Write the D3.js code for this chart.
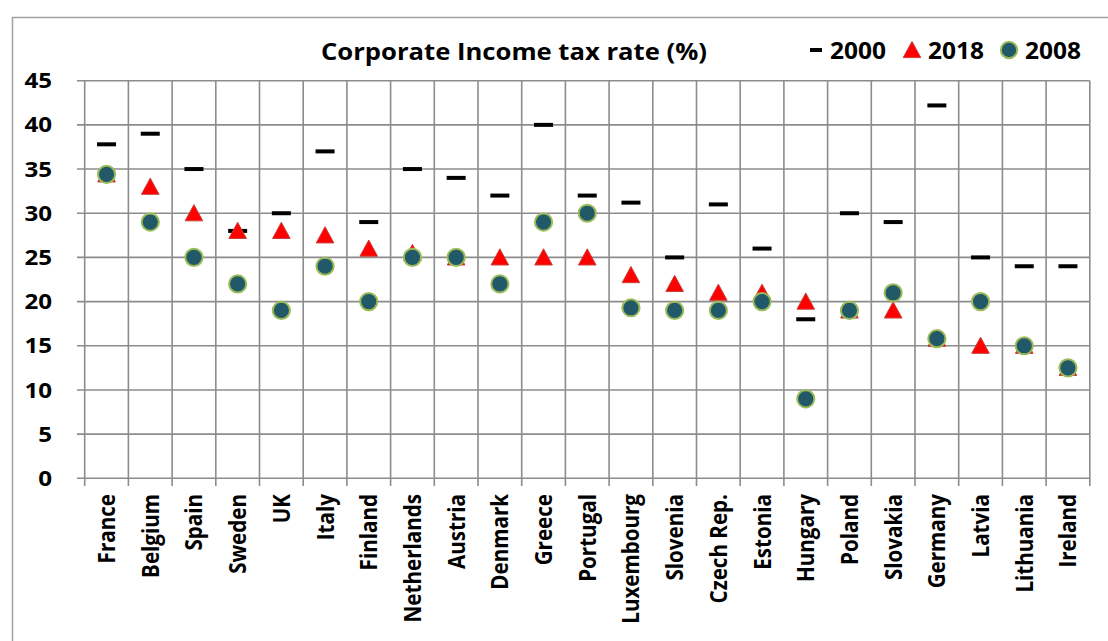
<!DOCTYPE html>
<html><head><meta charset="utf-8">
<script src="https://cdn.jsdelivr.net/npm/d3@7/dist/d3.min.js"></script>
<style>html,body{margin:0;padding:0;background:#fff;}svg{display:block;}</style>
</head><body>
<svg id="chart" width="1108" height="641"></svg>
<script>
const categories = ["France","Belgium","Spain","Sweden","UK","Italy","Finland","Netherlands","Austria","Denmark","Greece","Portugal","Luxembourg","Slovenia","Czech Rep.","Estonia","Hungary","Poland","Slovakia","Germany","Latvia","Lithuania","Ireland"];
const values2000 = [37.8,39,35,28,30,37,29,35,34,32,40,32,31.2,25,31,26,18,30,29,42.2,25,24,24];
const values2018 = [34.4,33,30,28,28,27.5,26,25.5,25,25,25,25,23,22,21,21,20,19,19,15.8,15,15,12.5];
const values2008 = [34.4,29,25,22,19,24,20,25,25,22,29,30,19.3,19,19,20,9,19,21,15.8,20,15,12.5];
const yTicks = [0,5,10,15,20,25,30,35,40,45];
const titleText = "Corporate Income tax rate (%)";
const legendItems = [{label:"2000",kind:"dash"},{label:"2018",kind:"tri"},{label:"2008",kind:"circ"}];

const svg = d3.select("#chart");
const FONT = "'Open Sans', 'Liberation Sans', sans-serif";
const SX = 1.15;
const gridColor = "#8c8c8c";

// frame
svg.append("path").attr("d","M12.5,641 L12.5,17.5 L1108,17.5").attr("fill","none").attr("stroke","#a0a0a0").attr("stroke-width",1.5);

const x = d3.scaleBand().domain(categories).range([84.7,1089.8]).paddingInner(0).paddingOuter(0);
const y = d3.scaleLinear().domain([0,45]).range([478.3,80.7]);
const cx = d => x(d) + x.bandwidth()/2;

// horizontal gridlines
svg.append("g").selectAll("line").data(yTicks).join("line")
  .attr("x1",77).attr("x2",x.range()[1]).attr("y1",d=>y(d)).attr("y2",d=>y(d))
  .attr("stroke",gridColor).attr("stroke-width",1.6);
// vertical gridlines (band boundaries)
const bounds = categories.map(c=>x(c)).concat([x.range()[1]]);
svg.append("g").selectAll("line").data(bounds).join("line")
  .attr("x1",d=>d).attr("x2",d=>d).attr("y1",y(45)).attr("y2",486)
  .attr("stroke",gridColor).attr("stroke-width",1.6);

// y tick labels
svg.append("g").selectAll("text").data(yTicks).join("text")
  .attr("transform",d=>`translate(52,${y(d)}) scale(${SX},1)`)
  .attr("dy","0.36em").attr("text-anchor","end")
  .attr("font-family",FONT).attr("font-weight","bold").attr("font-size",21).attr("fill","#000")
  .text(d=>d);

// x labels
svg.append("g").selectAll("text").data(categories).join("text")
  .attr("transform",d=>`translate(${cx(d)},494) scale(${SX},1) rotate(-90)`)
  .attr("dy","0.36em").attr("text-anchor","end")
  .attr("font-family",FONT).attr("font-weight","bold").attr("font-size",20.6).attr("fill","#000")
  .text(d=>d);

const triPath = "M0,-8.6 L8.8,7.6 L-8.8,7.6 Z";
// 2000 dashes
svg.append("g").selectAll("rect").data(categories).join("rect")
  .attr("x",d=>cx(d)-9.5).attr("y",(d,i)=>y(values2000[i])-2).attr("width",19).attr("height",4).attr("fill","#000");
// 2018 triangles
svg.append("g").selectAll("path").data(categories).join("path")
  .attr("d",triPath).attr("transform",(d,i)=>`translate(${cx(d)},${y(values2018[i])})`)
  .attr("fill","#ff0000").attr("stroke","#c9403c").attr("stroke-width",1);
// 2008 circles
svg.append("g").selectAll("circle").data(categories).join("circle")
  .attr("cx",d=>cx(d)).attr("cy",(d,i)=>y(values2008[i])).attr("r",8.6)
  .attr("fill","#215968").attr("stroke","#9bbb59").attr("stroke-width",2);

// title
svg.append("text").attr("x",321).attr("y",60)
  .attr("font-family",FONT).attr("font-weight","bold").attr("font-size",23.5)
  .attr("textLength",386).attr("lengthAdjust","spacingAndGlyphs").text(titleText);

// legend
const legMarkX = [816, 912, 1009];
const legTextX = [830, 928, 1025];
const lg = svg.append("g");
legendItems.forEach((it,i)=>{
  const mx = legMarkX[i], my = 50;
  if(it.kind==="dash") lg.append("rect").attr("x",mx-6).attr("y",my-2).attr("width",12).attr("height",4).attr("fill","#000");
  if(it.kind==="tri") lg.append("path").attr("d",triPath).attr("transform",`translate(${mx},${my})`).attr("fill","#ff0000").attr("stroke","#c9403c").attr("stroke-width",1);
  if(it.kind==="circ") lg.append("circle").attr("cx",mx).attr("cy",my).attr("r",8.2).attr("fill","#215968").attr("stroke","#9bbb59").attr("stroke-width",2);
  lg.append("text").attr("x",legTextX[i]).attr("y",59)
    .attr("font-family",FONT).attr("font-weight","bold").attr("font-size",23)
    .attr("textLength",56).attr("lengthAdjust","spacingAndGlyphs").text(it.label);
});
</script>
</body></html>
